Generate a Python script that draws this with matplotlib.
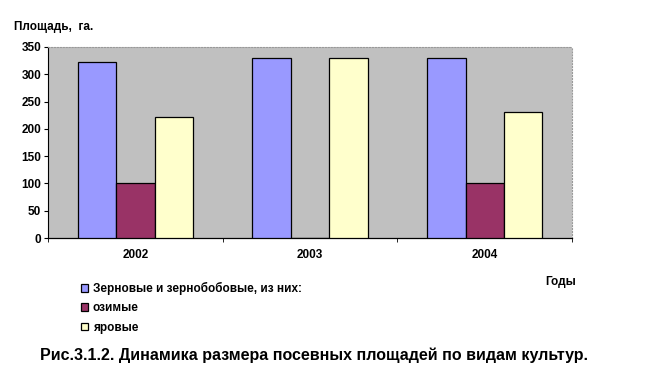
import numpy as np
import matplotlib as mpl
from matplotlib import pyplot as plt

mpl.rc('font', family='Liberation Sans', weight='bold')

years = ['2002', '2003', '2004']
grain = [322, 330, 330]
winter = [100, 0, 100]
spring = [222, 330, 230]
labels = ['Зерновые и зернобобовые, из них:', 'озимые', 'яровые']
colors = ['#9999FF', '#993366', '#FFFFCC']

fig = plt.figure(figsize=(6.45, 3.87), dpi=100, facecolor='white')
ax = fig.add_axes([0.0744, 0.385, 0.8126, 0.4936])
ax.set_facecolor('#C0C0C0')

x = np.arange(len(years))
w = 0.22
handles = []
for i, (vals, c) in enumerate(zip([grain, winter, spring], colors)):
    pos = x + (i - 1) * w
    # slight shadow
    ax.bar(pos + 0.006, vals, w, bottom=-2, color='#555555', lw=0, zorder=2)
    b = ax.bar(pos, vals, w, color=c, edgecolor='black', lw=0.9, zorder=3)
    handles.append(b)

ax.set_xlim(-0.5, 2.5)
ax.set_ylim(0, 350)
ax.set_yticks(range(0, 351, 50))
ax.set_xticks(x)
ax.set_xticklabels(years)
ax.set_xticks([-0.5, 0.5, 1.5, 2.5], minor=True)
ax.tick_params(axis='x', which='major', length=0, pad=8, labelsize=8.5)
ax.tick_params(axis='x', which='minor', length=3, direction='out')
ax.tick_params(axis='y', length=3, direction='out', labelsize=8.5, pad=2)

for s in ['top', 'right']:
    ax.spines[s].set_color('#999999')
    ax.spines[s].set_linestyle(':')
    ax.spines[s].set_linewidth(0.8)
ax.spines['left'].set_linewidth(0.8)
ax.spines['bottom'].set_linewidth(0.9)

fig.text(14 / 645, 1 - 27 / 387, 'Площадь,  га.', fontsize=8.5, va='center')
fig.text(545 / 645, 1 - 282 / 387, 'Годы', fontsize=8.5, va='center')

leg = fig.legend([h[0] for h in handles], labels, loc='upper left',
                 bbox_to_anchor=(75 / 645, 1 - 276 / 387), frameon=False,
                 fontsize=8.5, handlelength=0.6, handleheight=0.6,
                 handletextpad=0.4, labelspacing=0.62, borderpad=0)

fig.text(40 / 645, 1 - 355 / 387,
         'Рис.3.1.2. Динамика размера посевных площадей по видам культур.',
         fontsize=11.5, va='center')

plt.savefig('out.png', dpi=100)
